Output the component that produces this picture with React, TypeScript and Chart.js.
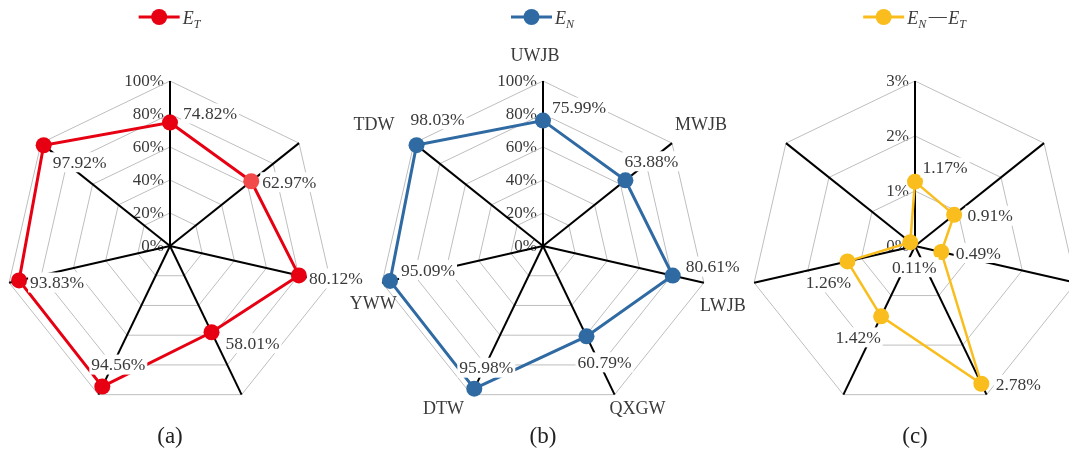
import { useEffect, useRef } from "react";
import { Chart, registerables } from "chart.js";

Chart.register(...registerables);

// ---- data ----
const categories = ["UWJB", "MWJB", "LWJB", "QXGW", "DTW", "YWW", "TDW"];
const etValues = [74.82, 62.97, 80.12, 58.01, 94.56, 93.83, 97.92];
const enValues = [75.99, 63.88, 80.61, 60.79, 95.98, 95.09, 98.03];
const diffValues = [1.17, 0.91, 0.49, 2.78, 1.42, 1.26, 0.11];
const pctTicks = [0, 20, 40, 60, 80, 100];
const diffTicks = [0, 1, 2, 3];

// ---- layout & styling ----
const FONT = "'Liberation Serif', 'Times New Roman', serif";
const TEXT = "#3a3a3a";
const CW = 440;
const CH = 460;
const CY = 246;
const R = 165;

type Seg = { t: string; sub?: boolean; upright?: boolean };

interface Panel {
  key: string;
  cx: number;
  values: number[];
  max: number;
  step: number;
  ticks: number[];
  color: string;
  pointColors: string[];
  lineWidth: number;
  legend: Seg[];
  caption: string;
  labelOffsets: [number, number][];
  showCategories: boolean;
}

// category name centre offsets from each outer vertex (px)
const categoryOffsets: [number, number][] = [
  [-8, -25],
  [29, -18],
  [19, 24],
  [23, 15],
  [-28, 15],
  [-9, 22],
  [-40, -18],
];

const RED = "#E60012";
const BLUE = "#2F6AA3";
const YELLOW = "#F9BE1D";

const panels: Panel[] = [
  {
    key: "a",
    cx: 170,
    values: etValues,
    max: 100,
    step: 20,
    ticks: pctTicks,
    color: RED,
    pointColors: [RED, "#F24A4A", RED, RED, RED, RED, RED],
    lineWidth: 3,
    legend: [{ t: "E" }, { t: "T", sub: true }],
    caption: "(a)",
    labelOffsets: [
      [40, -9],
      [38, 1],
      [37, 3],
      [41, 11],
      [16, -22],
      [38, 2],
      [36, 17],
    ],
    showCategories: false,
  },
  {
    key: "b",
    cx: 543,
    values: enValues,
    max: 100,
    step: 20,
    ticks: pctTicks,
    color: BLUE,
    pointColors: Array(7).fill(BLUE),
    lineWidth: 3,
    legend: [{ t: "E" }, { t: "N", sub: true }],
    caption: "(b)",
    labelOffsets: [
      [36, -13],
      [26, -19],
      [40, -9],
      [18, 26],
      [12, -21],
      [38, -11],
      [21, -26],
    ],
    showCategories: true,
  },
  {
    key: "c",
    cx: 915,
    values: diffValues,
    max: 3,
    step: 1,
    ticks: diffTicks,
    color: YELLOW,
    pointColors: Array(7).fill(YELLOW),
    lineWidth: 2.5,
    legend: [
      { t: "E" },
      { t: "N", sub: true },
      { t: "\u2014", upright: true },
      { t: "E" },
      { t: "T", sub: true },
    ],
    caption: "(c)",
    labelOffsets: [
      [30, -14],
      [36, 1],
      [37, 1],
      [37, 1],
      [-23, 21],
      [-19, 21],
      [4, 25],
    ],
    showCategories: false,
  },
];

function segFont(s: Seg) {
  if (s.sub) return `italic 12px ${FONT}`;
  if (s.upright) return `18px ${FONT}`;
  return `italic 18px ${FONT}`;
}

function segWidth(ctx: CanvasRenderingContext2D, s: Seg) {
  ctx.font = segFont(s);
  const w = ctx.measureText(s.t).width;
  if (s.sub) return w + 1;
  if (s.upright) return w + 3;
  return w;
}

function makeDecor(p: Panel) {
  return {
    id: "panelDecor",
    beforeDraw(chart: any) {
      const s = chart.scales.r;
      const ctx: CanvasRenderingContext2D = chart.ctx;
      ctx.save();
      ctx.font = `17px ${FONT}`;
      ctx.fillStyle = TEXT;
      ctx.textAlign = "right";
      ctx.textBaseline = "middle";
      p.ticks.forEach((v) => {
        const d = s.getDistanceFromCenterForValue(v);
        ctx.fillText(`${v}%`, s.xCenter - 6, s.yCenter - d + 1);
      });
      ctx.restore();
    },
    afterDatasetsDraw(chart: any) {
      const s = chart.scales.r;
      const ctx: CanvasRenderingContext2D = chart.ctx;
      const meta = chart.getDatasetMeta(0);
      ctx.save();

      // value labels on white boxes
      ctx.font = `17.5px ${FONT}`;
      ctx.textAlign = "center";
      ctx.textBaseline = "middle";
      meta.data.forEach((pt: any, i: number) => {
        const [dx, dy] = p.labelOffsets[i];
        const text = `${p.values[i].toFixed(2)}%`;
        const w = ctx.measureText(text).width;
        const x = pt.x + dx;
        const y = pt.y + dy;
        ctx.fillStyle = "#ffffff";
        ctx.fillRect(x - w / 2 - 2, y - 10, w + 4, 20);
        ctx.fillStyle = TEXT;
        ctx.fillText(text, x, y + 1);
      });

      // category names around the outer ring
      if (p.showCategories) {
        ctx.font = `18px ${FONT}`;
        ctx.fillStyle = TEXT;
        categories.forEach((c, i) => {
          const pos = s.getPointPosition(i, s.drawingArea);
          const [dx, dy] = categoryOffsets[i];
          ctx.fillText(c, pos.x + dx, pos.y + dy);
        });
      }

      // legend
      const lineLen = 41;
      const gap = 3;
      let tw = 0;
      p.legend.forEach((sg) => {
        tw += segWidth(ctx, sg);
      });
      const x0 = s.xCenter - (lineLen + gap + tw) / 2;
      const ly = 17;
      ctx.strokeStyle = p.color;
      ctx.lineWidth = 3;
      ctx.beginPath();
      ctx.moveTo(x0, ly);
      ctx.lineTo(x0 + lineLen, ly);
      ctx.stroke();
      ctx.fillStyle = p.color;
      ctx.beginPath();
      ctx.arc(x0 + lineLen / 2, ly, 8, 0, Math.PI * 2);
      ctx.fill();
      let tx = x0 + lineLen + gap;
      ctx.textAlign = "left";
      ctx.textBaseline = "alphabetic";
      ctx.fillStyle = TEXT;
      p.legend.forEach((sg) => {
        const w = segWidth(ctx, sg);
        ctx.font = segFont(sg);
        const yy = sg.sub ? ly + 11 : sg.upright ? ly + 5 : ly + 7;
        ctx.fillText(sg.t, sg.upright ? tx + 1.5 : tx, yy);
        tx += w;
      });

      // caption
      ctx.font = `23px ${FONT}`;
      ctx.fillStyle = "#222222";
      ctx.textAlign = "center";
      ctx.textBaseline = "middle";
      ctx.fillText(p.caption, s.xCenter, 437);

      ctx.restore();
    },
  };
}

function RadarPanel({ panel }: { panel: Panel }) {
  const ref = useRef<HTMLCanvasElement>(null);

  useEffect(() => {
    if (!ref.current) return;
    const side = (CW - 2 * R) / 2;
    const chart = new Chart(ref.current, {
      type: "radar",
      data: {
        labels: categories,
        datasets: [
          {
            data: panel.values,
            borderColor: panel.color,
            borderWidth: panel.lineWidth,
            pointBackgroundColor: panel.pointColors,
            pointBorderWidth: 0,
            pointRadius: 8,
            pointHoverRadius: 8,
            fill: false,
            tension: 0,
          },
        ],
      },
      options: {
        responsive: false,
        animation: false,
        events: [],
        layout: {
          padding: { left: side, right: side, top: CY - R, bottom: CH - CY - R },
        },
        plugins: {
          legend: { display: false },
          tooltip: { enabled: false },
        },
        scales: {
          r: {
            min: 0,
            max: panel.max,
            ticks: { stepSize: panel.step, display: false },
            grid: { color: "#BEBEBE", lineWidth: 1 },
            angleLines: { color: "#000000", lineWidth: 2 },
            pointLabels: { display: false },
          },
        },
      },
      plugins: [makeDecor(panel)],
    });
    return () => chart.destroy();
  }, [panel]);

  return (
    <canvas
      ref={ref}
      width={CW}
      height={CH}
      style={{
        position: "absolute",
        left: panel.cx - CW / 2,
        top: 0,
        width: CW,
        height: CH,
      }}
    />
  );
}

export default function App() {
  return (
    <div
      style={{
        position: "fixed",
        left: 0,
        top: 0,
        width: 1069,
        height: 460,
        overflow: "hidden",
        background: "#ffffff",
      }}
    >
      {panels.map((p) => (
        <RadarPanel key={p.key} panel={p} />
      ))}
    </div>
  );
}
